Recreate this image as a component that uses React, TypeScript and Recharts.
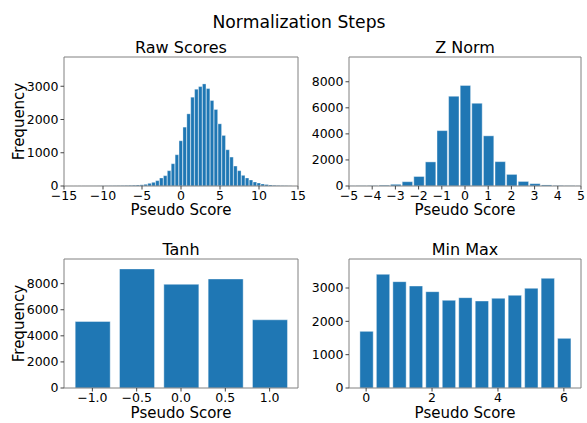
import { Bar, BarChart, ReferenceLine, XAxis, YAxis } from "recharts";

// bin centres and counts
const RAW_BINS = [
  -14, -13.5, -13, -12.5, -12, -11.5, -11, -10.5, -10, -9.5, -9, -8.5, -8, -7.5,
  -7, -6.5, -6, -5.5, -5, -4.5, -4, -3.5, -3, -2.5, -2, -1.5, -1, -0.5, 0, 0.5,
  1, 1.5, 2, 2.5, 3, 3.5, 4, 4.5, 5, 5.5, 6, 6.5, 7, 7.5, 8, 8.5, 9, 9.5, 10,
  10.5, 11, 11.5, 12, 12.5, 13, 13.5, 14,
];
const RAW_COUNTS = [
  1, 1, 2, 2, 2, 3, 3, 4, 5, 6, 7, 8, 10, 12, 15, 18, 22, 28, 35, 50, 80, 110,
  160, 240, 310, 460, 670, 940, 1360, 1770, 2170, 2670, 2910, 2990, 3070, 2930,
  2570, 2300, 1870, 1520, 1090, 870, 600, 460, 320, 240, 180, 120, 90, 60, 45,
  30, 20, 15, 10, 8, 5,
];

const Z_BINS = [
  -5, -4.5, -4, -3.5, -3, -2.5, -2, -1.5, -1, -0.5, 0, 0.5, 1, 1.5, 2, 2.5, 3,
  3.5, 4, 4.5, 5,
];
const Z_COUNTS = [
  15, 20, 30, 60, 130, 330, 730, 1850, 4250, 6890, 7720, 6350, 3850, 1870, 890,
  350, 180, 80, 40, 25, 15,
];

const TANH_BINS = [-1, -0.5, 0, 0.5, 1];
const TANH_COUNTS = [5100, 9130, 7950, 8360, 5230];

const MINMAX_BINS = [0, 0.5, 1, 1.5, 2, 2.5, 3, 3.5, 4, 4.5, 5, 5.5, 6];
const MINMAX_COUNTS = [
  1700, 3410, 3190, 3060, 2890, 2630, 2710, 2610, 2690, 2780, 2990, 3290, 1490,
];

const RAW_TICKS = [-15, -10, -5, 0, 5, 10, 15];
const Z_TICKS = [-5, -4, -3, -2, -1, 0, 1, 2, 3, 4, 5];
const TANH_TICKS = [-1, -0.5, 0, 0.5, 1];
const MINMAX_TICKS = [0, 2, 4, 6];
const RAW_Y_TICKS = [0, 1000, 2000, 3000];
const Z_Y_TICKS = [0, 2000, 4000, 6000, 8000];
const TANH_Y_TICKS = [0, 2000, 4000, 6000, 8000];
const MINMAX_Y_TICKS = [0, 1000, 2000, 3000];

const BLUE = "#1f77b4";
const FRAME = "#808080";
const FONT = "DejaVu Sans";

const toRows = (bins: number[], counts: number[]) =>
  bins.map((x, i) => ({ x, count: counts[i] }));

const minus = (s: string) => s.replace("-", "\u2212");

type HistProps = {
  bins: number[];
  counts: number[];
  xDomain: [number, number];
  xTicks: number[];
  yDomain: [number, number];
  yTicks: number[];
  barSize: number;
  barStroke: string;
  barStrokeWidth: number;
  left: number;
  top: number;
  width: number;
  yAxisWidth: number;
  rightMargin: number;
  xAxisHeight: number;
  bottomMargin: number;
  yLabel?: boolean;
  decimals?: number;
};

function Hist(p: HistProps) {
  const fmt = (v: number) =>
    minus(p.decimals ? v.toFixed(p.decimals) : String(v));
  return (
    <div style={{ position: "absolute", left: p.left, top: p.top }}>
      <BarChart
        width={p.width}
        height={174}
        data={toRows(p.bins, p.counts)}
        margin={{ top: 10, right: p.rightMargin, bottom: p.bottomMargin, left: 0 }}
      >
        <XAxis
          dataKey="x"
          type="number"
          domain={p.xDomain}
          ticks={p.xTicks}
          interval={0}
          allowDataOverflow
          height={p.xAxisHeight}
          tickFormatter={fmt}
          tick={{ fontSize: 12.5, fill: "#000", fontFamily: FONT }}
          tickSize={3.5}
          tickMargin={1.5}
          tickLine={{ stroke: "#444" }}
          axisLine={{ stroke: FRAME }}
          label={{
            value: "Pseudo Score",
            position: "insideBottom",
            offset: 0,
            fontSize: 15,
            fill: "#000",
            fontFamily: FONT,
          }}
        />
        <YAxis
          type="number"
          domain={p.yDomain}
          ticks={p.yTicks}
          interval={0}
          allowDataOverflow
          width={p.yAxisWidth}
          tick={{ fontSize: 12.5, fill: "#000", fontFamily: FONT }}
          tickSize={3.5}
          tickMargin={2}
          tickLine={{ stroke: "#444" }}
          axisLine={{ stroke: FRAME }}
          label={
            p.yLabel
              ? {
                  value: "Frequency",
                  angle: -90,
                  position: "insideLeft",
                  offset: 18.7,
                  fontSize: 15,
                  fill: "#000",
                  fontFamily: FONT,
                  style: { textAnchor: "middle" },
                }
              : undefined
          }
        />
        <Bar
          dataKey="count"
          fill={BLUE}
          stroke={p.barStroke}
          strokeWidth={p.barStrokeWidth}
          barSize={p.barSize}
          isAnimationActive={false}
        />
        <ReferenceLine y={p.yDomain[1]} stroke={FRAME} strokeWidth={1} />
        <ReferenceLine x={p.xDomain[1]} stroke={FRAME} strokeWidth={1} />
      </BarChart>
    </div>
  );
}

export default function App() {
  const leftCol = { left: 0, width: 310, yAxisWidth: 64, rightMargin: 12 };
  const rightCol = { left: 290, width: 297, yAxisWidth: 59, rightMargin: 6 };
  const topRow = { top: 47, xAxisHeight: 29, bottomMargin: 6 };
  const botRow = { top: 249, xAxisHeight: 30, bottomMargin: 5 };

  return (
    <div
      style={{
        position: "absolute",
        left: 0,
        top: 0,
        width: 587,
        height: 423,
        background: "#fff",
        fontFamily: FONT,
      }}
    >
      <Hist
        bins={RAW_BINS}
        counts={RAW_COUNTS}
        xDomain={[-15, 15]}
        xTicks={RAW_TICKS}
        yDomain={[0, 3880]}
        yTicks={RAW_Y_TICKS}
        barSize={3.5}
        barStroke="rgba(255,255,255,0.6)"
        barStrokeWidth={0.5}
        yLabel
        {...leftCol}
        {...topRow}
      />
      <Hist
        bins={Z_BINS}
        counts={Z_COUNTS}
        xDomain={[-5, 5]}
        xTicks={Z_TICKS}
        yDomain={[0, 9900]}
        yTicks={Z_Y_TICKS}
        barSize={10.4}
        barStroke="rgba(255,255,255,0.5)"
        barStrokeWidth={0.8}
        {...rightCol}
        {...topRow}
      />
      <Hist
        bins={TANH_BINS}
        counts={TANH_COUNTS}
        xDomain={[-1.32, 1.32]}
        xTicks={TANH_TICKS}
        yDomain={[0, 9890]}
        yTicks={TANH_Y_TICKS}
        barSize={35}
        barStroke="rgba(255,255,255,0.4)"
        barStrokeWidth={1}
        yLabel
        decimals={1}
        {...leftCol}
        {...botRow}
      />
      <Hist
        bins={MINMAX_BINS}
        counts={MINMAX_COUNTS}
        xDomain={[-0.52, 6.52]}
        xTicks={MINMAX_TICKS}
        yDomain={[0, 3870]}
        yTicks={MINMAX_Y_TICKS}
        barSize={13.3}
        barStroke="rgba(255,255,255,0.4)"
        barStrokeWidth={1}
        {...rightCol}
        {...botRow}
      />
      <svg
        width={587}
        height={423}
        style={{ position: "absolute", left: 0, top: 0, pointerEvents: "none" }}
        fontFamily={FONT}
        textAnchor="middle"
      >
        <text x={299} y={27.7} fontSize={17.2} fill="#000">
          Normalization Steps
        </text>
        <text x={181} y={52.7} fontSize={16} fill="#000">
          Raw Scores
        </text>
        <text x={465} y={52.7} fontSize={16} fill="#000">
          Z Norm
        </text>
        <text x={181} y={254.7} fontSize={16} fill="#000">
          Tanh
        </text>
        <text x={465} y={254.7} fontSize={16} fill="#000">
          Min Max
        </text>
      </svg>
    </div>
  );
}
